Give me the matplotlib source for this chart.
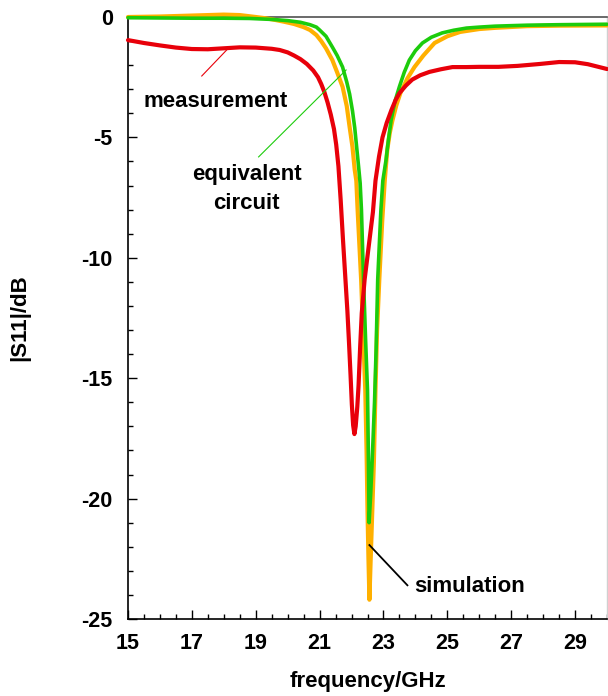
import matplotlib
matplotlib.use("Agg")
import matplotlib.pyplot as plt
from matplotlib.ticker import MultipleLocator, FixedLocator

plt.rcParams['font.family'] = ['Liberation Sans', 'DejaVu Sans']
plt.rcParams['font.weight'] = 'bold'
plt.rcParams['axes.unicode_minus'] = False

# ---- data (frequency in GHz, |S11| in dB) ----
meas_f = [15.0, 15.5, 16.0, 16.5, 17.0, 17.5, 18.0, 18.5, 19.0, 19.5, 19.75, 20.0,
          20.2, 20.4, 20.6, 20.8, 20.95, 21.05, 21.15, 21.25, 21.35, 21.45, 21.52, 21.59,
          21.66, 21.73, 21.80, 21.87, 21.92, 21.97, 22.01, 22.05, 22.09, 22.13, 22.18, 22.22,
          22.27, 22.32, 22.41, 22.54, 22.67, 22.75, 22.86, 22.97, 23.1, 23.25, 23.38, 23.5,
          23.7, 23.9, 24.15, 24.44, 24.8, 25.16, 25.6, 26.0, 26.6, 27.2, 27.9, 28.5,
          29.0, 29.4, 29.7, 30.0]
meas_db = [-0.96, -1.08, -1.18, -1.27, -1.33, -1.34, -1.30, -1.26, -1.27, -1.32, -1.37, -1.47,
           -1.60, -1.75, -1.95, -2.22, -2.50, -2.78, -3.12, -3.55, -4.05, -4.65, -5.30, -6.20,
           -7.60, -9.20, -10.70, -12.20, -13.50, -14.90, -16.10, -16.95, -17.32, -17.00, -16.20, -15.30,
           -13.70, -12.30, -10.90, -9.50, -8.10, -6.80, -5.80, -5.00, -4.40, -3.86, -3.45, -3.16,
           -2.85, -2.60, -2.42, -2.28, -2.17, -2.08, -2.08, -2.07, -2.07, -2.03, -1.95, -1.87,
           -1.88, -1.96, -2.06, -2.16]

eq_f = [15.0, 16.0, 17.0, 18.0, 18.8, 19.5, 20.0, 20.4, 20.7, 20.9, 21.0, 21.2, 21.4,
        21.55, 21.72, 21.85, 21.94, 22.03, 22.1, 22.16, 22.22, 22.27, 22.31, 22.375, 22.44,
        22.50, 22.53, 22.55, 22.60, 22.66, 22.72, 22.77, 22.82, 22.92, 22.98, 23.08, 23.16, 23.24,
        23.36, 23.5, 23.65, 23.81, 24.0, 24.22, 24.5, 24.84, 25.2, 25.6, 26.0, 26.5, 27.5, 28.5, 30.0]
eq_db = [-0.03, -0.04, -0.05, -0.05, -0.06, -0.10, -0.15, -0.22, -0.32, -0.42, -0.54, -0.80, -1.25,
         -1.60, -2.08, -2.70, -3.20, -3.90, -4.60, -5.40, -6.20, -6.90, -8.00, -10.90, -13.40,
         -15.50, -18.50, -21.00, -19.80, -18.00, -16.00, -13.80, -10.90, -8.00, -6.80, -5.94, -5.05, -4.28,
         -3.50, -2.89, -2.30, -1.79, -1.40, -1.08, -0.84, -0.66, -0.55, -0.46, -0.42, -0.38, -0.34, -0.32, -0.30]

sim_f = [15.0, 16.0, 17.0, 17.5, 18.0, 18.5, 19.0, 19.3, 19.6, 19.9, 20.2, 20.5, 20.7, 20.9, 21.05,
         21.2, 21.4, 21.55, 21.72, 21.85, 21.94, 22.03, 22.1, 22.15, 22.19, 22.3, 22.36,
         22.43, 22.47, 22.50, 22.53, 22.56, 22.60, 22.65, 22.70, 22.75, 22.80, 22.87, 22.96,
         23.04, 23.12, 23.2, 23.28, 23.4, 23.53, 23.75, 23.97, 24.25, 24.6, 25.0, 25.4, 26.0, 26.5,
         27.5, 28.5, 30.0]
sim_db = [0.0, 0.02, 0.06, 0.08, 0.10, 0.08, 0.0, -0.05, -0.12, -0.20, -0.29, -0.42, -0.54, -0.75, -1.00,
          -1.30, -1.79, -2.30, -2.90, -3.70, -4.57, -5.40, -6.35, -6.80, -8.00, -10.90, -13.00,
          -15.50, -18.00, -20.50, -22.50, -24.20, -22.50, -20.50, -18.50, -15.50, -13.00, -10.90, -8.50,
          -6.80, -5.50, -4.80, -4.30, -3.68, -3.16, -2.55, -2.08, -1.60, -1.08, -0.80, -0.62, -0.50, -0.45,
          -0.38, -0.36, -0.35]

x_major = [15, 17, 19, 21, 23, 25, 27, 29]
y_major = [-25, -20, -15, -10, -5, 0]

RED = '#e8000a'
GREEN = '#1ccc0c'
ORANGE = '#ffb000'

W, H = 608, 696
fig = plt.figure(figsize=(W / 100, H / 100), dpi=100)
ax = fig.add_axes([128 / W, (H - 619) / H, (607 - 128) / W, (619 - 17) / H])

kw = dict(clip_on=False, solid_joinstyle='round', solid_capstyle='round')
ax.plot(sim_f, sim_db, color=ORANGE, lw=3.0, zorder=3, **kw)
ax.plot(eq_f, eq_db, color=GREEN, lw=2.6, zorder=4, **kw)
ax.plot(meas_f, meas_db, color=RED, lw=3.0, zorder=5, **kw)

ax.set_xlim(15, 30)
ax.set_ylim(-25, 0)
ax.xaxis.set_major_locator(FixedLocator(x_major))
ax.xaxis.set_minor_locator(MultipleLocator(0.5))
ax.yaxis.set_major_locator(FixedLocator(y_major))
ax.yaxis.set_minor_locator(MultipleLocator(1))

ax.tick_params(which='both', direction='in', width=1.0, colors='black', labelsize=15.5)
ax.tick_params(which='major', length=6.5)
ax.tick_params(which='minor', length=3.6)
ax.tick_params(axis='y', which='major', pad=11)
ax.tick_params(axis='x', which='major', pad=10)
for lab in ax.get_xticklabels() + ax.get_yticklabels():
    lab.set_fontweight('bold')

for s in ['left', 'bottom']:
    ax.spines[s].set_linewidth(1.2)
    ax.spines[s].set_color('black')
ax.spines['top'].set_color('#505050')
ax.spines['top'].set_linewidth(1.2)
ax.spines['right'].set_color('#d0d0d0')
ax.spines['right'].set_linewidth(1.0)

# annotations
fs = 16
ax.plot([17.31, 18.09], [-2.45, -1.37], color=RED, lw=0.8, zorder=6)
ax.text(17.75, -3.74, 'measurement', ha='center', va='baseline', fontsize=fs, fontweight='bold')

ax.plot([19.09, 21.83], [-5.81, -2.2], color=GREEN, lw=0.8, zorder=6)
ax.text(18.71, -6.77, 'equivalent', ha='center', va='baseline', fontsize=fs, fontweight='bold')
ax.text(18.71, -7.99, 'circuit', ha='center', va='baseline', fontsize=fs, fontweight='bold')

ax.plot([22.56, 23.75], [-21.93, -23.6], color='black', lw=1.3, zorder=6)
ax.text(25.69, -23.87, 'simulation', ha='center', va='baseline', fontsize=fs, fontweight='bold')

fig.text(20 / W, 1 - 318 / H, '|S11|/dB', rotation=90, ha='center', va='center',
         fontsize=fs, fontweight='bold')
fig.text(368 / W, 1 - 682 / H, 'frequency/GHz', ha='center', va='center',
         fontsize=fs, fontweight='bold')

fig.savefig('out.png', dpi=100)
